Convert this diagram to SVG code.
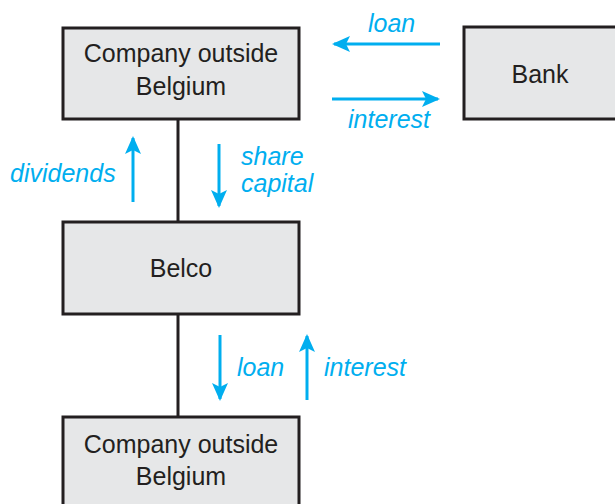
<svg xmlns="http://www.w3.org/2000/svg" width="615" height="504" viewBox="0 0 615 504">
<style>
.box{fill:#e6e7e8;stroke:#231f20;stroke-width:3}
.t{font-family:"Liberation Sans",Arial,sans-serif;font-size:25px;fill:#231f20;text-anchor:middle}
.l{font-family:"Liberation Sans",Arial,sans-serif;font-size:25px;font-style:italic;fill:#00aeef}
.link{stroke:#231f20;stroke-width:3;fill:none}
.flow{stroke:#00aeef;stroke-width:3;fill:none;marker-end:url(#ah)}
</style>
<defs>
<marker id="ah" viewBox="0 0 18 16" refX="16" refY="8" markerWidth="18" markerHeight="16" markerUnits="userSpaceOnUse" orient="auto">
<path d="M0,0 L18,8 L0,16 L4,8 Z" fill="#00aeef"/>
</marker>
</defs>
<rect width="615" height="504" fill="#ffffff"/>
<g id="connectors">
<line class="link" x1="178" y1="119" x2="178" y2="222"/>
<line class="link" x1="178" y1="314" x2="178" y2="417"/>
<line class="flow" x1="440" y1="44" x2="334" y2="44"/>
<line class="flow" x1="332" y1="99" x2="438" y2="99"/>
<line class="flow" x1="133" y1="202" x2="133" y2="138"/>
<line class="flow" x1="219" y1="144" x2="219" y2="206"/>
<line class="flow" x1="220" y1="335" x2="220" y2="399"/>
<line class="flow" x1="307" y1="400" x2="307" y2="336"/>
<text class="l" x="368" y="32">loan</text>
<text class="l" x="348" y="128">interest</text>
<text class="l" x="10" y="182">dividends</text>
<text class="l" x="241" y="165">share</text>
<text class="l" x="241" y="192">capital</text>
<text class="l" x="237" y="376">loan</text>
<text class="l" x="324" y="376">interest</text>
</g>
<g id="company-top">
<rect class="box" x="63" y="28" width="236" height="91"/>
<text class="t" x="181" y="62">Company outside</text>
<text class="t" x="181" y="95">Belgium</text>
</g>
<g id="bank">
<rect class="box" x="464" y="27" width="160" height="92"/>
<text class="t" x="540" y="83">Bank</text>
</g>
<g id="belco">
<rect class="box" x="63" y="222" width="236" height="92"/>
<text class="t" x="181" y="277">Belco</text>
</g>
<g id="company-bottom">
<rect class="box" x="63" y="417" width="236" height="100"/>
<text class="t" x="181" y="453">Company outside</text>
<text class="t" x="181" y="485">Belgium</text>
</g>
</svg>
